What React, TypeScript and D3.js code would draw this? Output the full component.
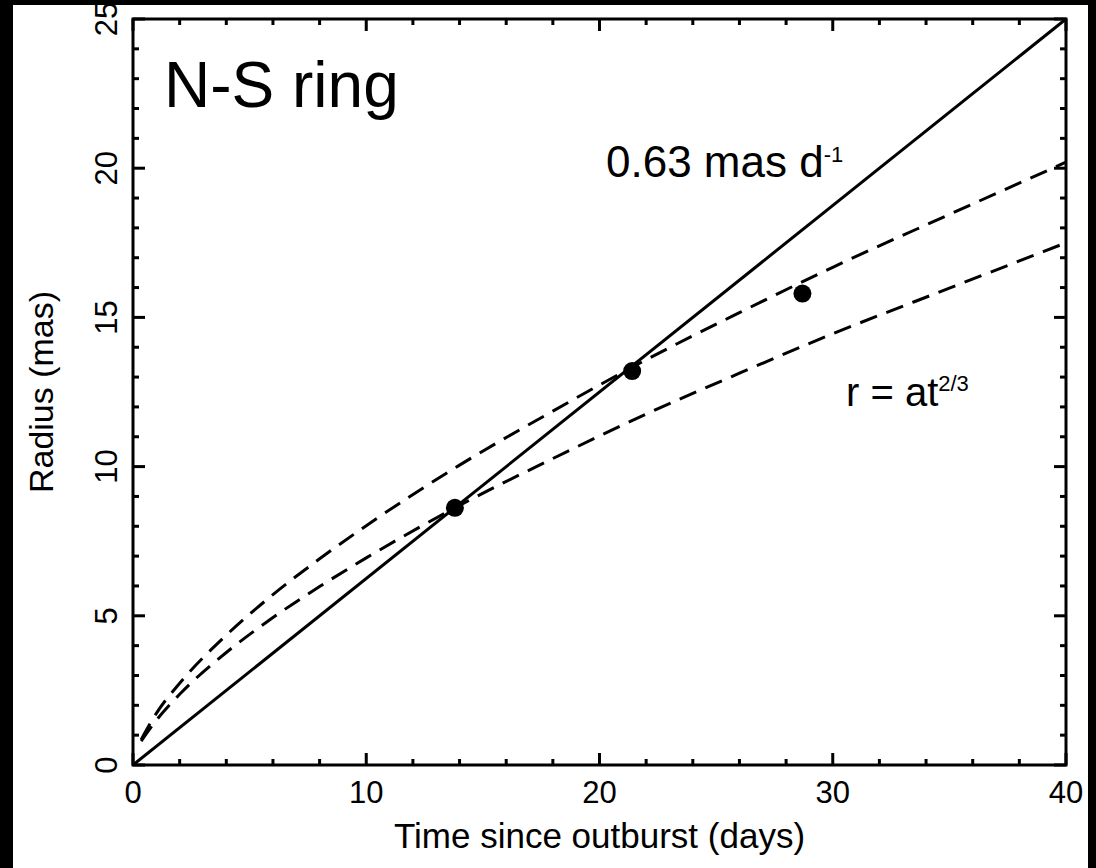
import * as d3 from "d3"

// observed ring radii
const obsDays = [13.8, 21.4, 28.7]
const obsRadius = [8.62, 13.2, 15.8]

// linear expansion, 0.63 mas/day
const linDays = [0, 40]
const linRadius = [0, 25]

// r = a t^(2/3) curves
const curveDays = [0.35, 1, 2, 4, 6, 8, 10, 14, 18, 22, 26, 30, 35, 40]
const lowerRadius = [0.8, 1.5, 2.37, 3.77, 4.94, 5.98, 6.94, 8.7, 10.27, 11.76, 13.13, 14.45, 15.98, 17.5]
const upperRadius = [0.85, 1.73, 2.74, 4.35, 5.71, 6.91, 8.02, 10.05, 11.86, 13.58, 15.16, 16.68, 18.45, 20.2]

const xMajor = [0, 10, 20, 30, 40]
const xMinor = [2, 4, 6, 8, 12, 14, 16, 18, 22, 24, 26, 28, 32, 34, 36, 38]
const yMajor = [0, 5, 10, 15, 20, 25]
const yMinor = [1, 2, 3, 4, 6, 7, 8, 9, 11, 12, 13, 14, 16, 17, 18, 19, 21, 22, 23, 24]

const W = 1096
const H = 868
const left = 133
const right = 1066
const top = 19
const bottom = 765
const font = "'Liberation Sans', Arial, Helvetica, sans-serif"

export default function App() {
  const x = d3.scaleLinear().domain([0, 40]).range([left, right])
  const y = d3.scaleLinear().domain([0, 25]).range([bottom, top])

  const line = d3
    .line<[number, number]>()
    .x((d) => x(d[0]))
    .y((d) => y(d[1]))
  const smooth = d3
    .line<[number, number]>()
    .x((d) => x(d[0]))
    .y((d) => y(d[1]))
    .curve(d3.curveMonotoneX)

  const lin = line(linDays.map((t, i) => [t, linRadius[i]]))
  const lower = smooth(curveDays.map((t, i) => [t, lowerRadius[i]]))
  const upper = smooth(curveDays.map((t, i) => [t, upperRadius[i]]))

  const majLen = 12
  const minLen = 6

  return (
    <svg
      width={W}
      height={H}
      style={{ position: "absolute", left: 0, top: 0, fontFamily: font }}
    >
      <rect x={0} y={0} width={W} height={H} fill="#000" />
      <rect x={13} y={5} width={1075} height={H - 5} fill="#fff" />

      {/* curves */}
      <path d={lin ?? ""} fill="none" stroke="#000" strokeWidth={3} />
      <path d={lower ?? ""} fill="none" stroke="#000" strokeWidth={3} strokeDasharray="18 10" />
      <path d={upper ?? ""} fill="none" stroke="#000" strokeWidth={3} strokeDasharray="18 10" />

      {obsDays.map((t, i) => (
        <circle key={i} cx={x(t)} cy={y(obsRadius[i])} r={9} fill="#000" />
      ))}

      {/* ticks, all pointing inward */}
      <g stroke="#000" strokeWidth={3}>
        {xMajor.map((v) => (
          <g key={"xM" + v}>
            <line x1={x(v)} x2={x(v)} y1={bottom} y2={bottom - majLen} />
            <line x1={x(v)} x2={x(v)} y1={top} y2={top + majLen} />
          </g>
        ))}
        {xMinor.map((v) => (
          <g key={"xm" + v}>
            <line x1={x(v)} x2={x(v)} y1={bottom} y2={bottom - minLen} />
            <line x1={x(v)} x2={x(v)} y1={top} y2={top + minLen} />
          </g>
        ))}
        {yMajor.map((v) => (
          <g key={"yM" + v}>
            <line x1={left} x2={left + majLen} y1={y(v)} y2={y(v)} />
            <line x1={right} x2={right - majLen} y1={y(v)} y2={y(v)} />
          </g>
        ))}
        {yMinor.map((v) => (
          <g key={"ym" + v}>
            <line x1={left} x2={left + minLen} y1={y(v)} y2={y(v)} />
            <line x1={right} x2={right - minLen} y1={y(v)} y2={y(v)} />
          </g>
        ))}
      </g>
      <rect
        x={left}
        y={top}
        width={right - left}
        height={bottom - top}
        fill="none"
        stroke="#000"
        strokeWidth={3}
      />

      {/* tick labels */}
      {xMajor.map((v) => (
        <text key={"xl" + v} x={x(v)} y={803} fontSize={31} textAnchor="middle" fill="#000">
          {v}
        </text>
      ))}
      {yMajor.map((v) => (
        <text
          key={"yl" + v}
          transform={`translate(117,${y(v)}) rotate(-90)`}
          fontSize={31}
          textAnchor="middle"
          fill="#000"
        >
          {v}
        </text>
      ))}

      {/* axis titles */}
      <text x={(left + right) / 2} y={848} fontSize={35} textAnchor="middle" fill="#000">
        Time since outburst (days)
      </text>
      <text
        transform={`translate(53,${(top + bottom) / 2}) rotate(-90)`}
        fontSize={34}
        textAnchor="middle"
        fill="#000"
      >
        Radius (mas)
      </text>

      {/* annotations */}
      <text x={164} y={107} fontSize={64} fill="#000">
        N-S ring
      </text>
      <text x={606} y={177} fontSize={44} fill="#000">
        0.63 mas d
        <tspan fontSize={22} dy={-15}>
          -1
        </tspan>
      </text>
      <text x={846} y={406} fontSize={40} fill="#000">
        r = at
        <tspan fontSize={22} dy={-15}>
          2/3
        </tspan>
      </text>
    </svg>
  )
}
